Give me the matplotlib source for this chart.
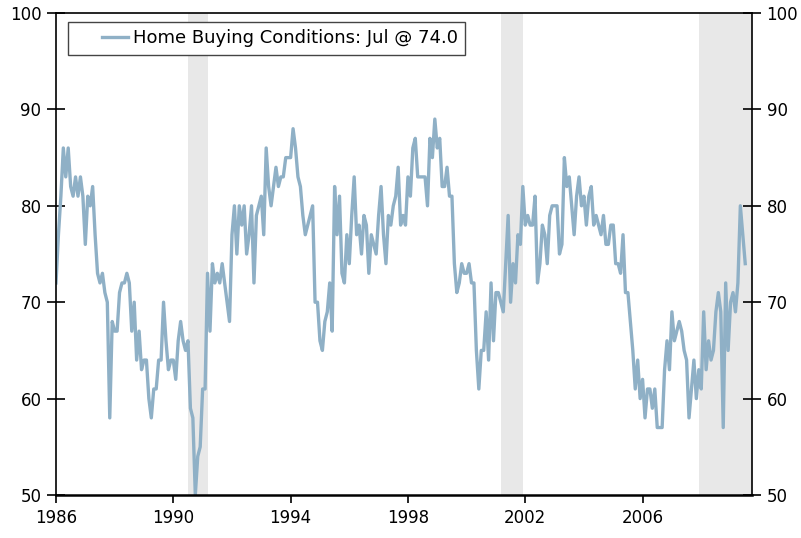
import matplotlib
matplotlib.use("Agg")
import matplotlib.pyplot as plt
from matplotlib.legend_handler import HandlerLine2D
import numpy as np

# monthly index, Jan 1986 .. Jul 2009
start_year = 1986
values = [
    72, 77, 81, 86, 83, 86, 82, 81, 83, 81, 83, 81,  # 1986
    76, 81, 80, 82, 77, 73, 72, 73, 71, 70, 58, 68,  # 1987
    67, 67, 71, 72, 72, 73, 72, 67, 70, 64, 67, 63,  # 1988
    64, 64, 60, 58, 61, 61, 64, 64, 70, 66, 63, 64,  # 1989
    64, 62, 66, 68, 66, 65, 66, 59, 58, 50, 54, 55,  # 1990
    61, 61, 73, 67, 74, 72, 73, 72, 74, 72, 70, 68,  # 1991
    77, 80, 75, 80, 78, 80, 75, 77, 80, 72, 79, 80,  # 1992
    81, 77, 86, 82, 80, 82, 84, 82, 83, 83, 85, 85,  # 1993
    85, 88, 86, 83, 82, 79, 77, 78, 79, 80, 70, 70,  # 1994
    66, 65, 68, 69, 72, 67, 82, 77, 81, 73, 72, 77,  # 1995
    74, 79, 83, 77, 78, 75, 79, 78, 73, 77, 76, 75,  # 1996
    79, 82, 77, 74, 79, 78, 80, 81, 84, 78, 79, 78,  # 1997
    83, 81, 86, 87, 83, 83, 83, 83, 80, 87, 85, 89,  # 1998
    86, 87, 82, 82, 84, 81, 81, 74, 71, 72, 74, 73,  # 1999
    73, 74, 72, 72, 65, 61, 65, 65, 69, 64, 72, 66,  # 2000
    71, 71, 70, 69, 74, 79, 70, 74, 72, 77, 76, 82,  # 2001
    78, 79, 78, 78, 81, 72, 74, 78, 77, 74, 79, 80,  # 2002
    80, 80, 75, 76, 85, 82, 83, 80, 77, 81, 83, 80,  # 2003
    81, 78, 81, 82, 78, 79, 78, 77, 79, 76, 76, 78,  # 2004
    78, 74, 74, 73, 77, 71, 71, 68, 65, 61, 64, 60,  # 2005
    62, 58, 61, 61, 59, 61, 57, 57, 57, 63, 66, 63,  # 2006
    69, 66, 67, 68, 67, 65, 64, 58, 61, 64, 60, 63,  # 2007
    61, 69, 63, 66, 64, 65, 69, 71, 69, 57, 72, 65,  # 2008
    70, 71, 69, 72, 80, 77, 74,                      # 2009
]
recessions = [(1990.5, 1991.17), (2001.17, 2001.92), (2007.92, 2009.73)]
x_ticks = [1986, 1990, 1994, 1998, 2002, 2006]
y_ticks = [50, 60, 70, 80, 90, 100]
label = "Home Buying Conditions: Jul @ 74.0"

dates = start_year + np.arange(len(values)) / 12.0


class ShortLine(HandlerLine2D):
    # draw the legend sample only in the right part of the handle box
    def get_xdata(self, legend, xdescent, ydescent, width, height, fontsize):
        xd = np.array([-xdescent + 0.5 * width, -xdescent + width])
        return xd, xd


fig = plt.figure(figsize=(8.01, 5.38), dpi=100)
ax = fig.add_axes([0.0699, 0.0799, 0.8689, 0.8959])

for a, b in recessions:
    ax.axvspan(a, b, color="#e8e8e8", lw=0, zorder=0)

line, = ax.plot(dates, values, color="#8fb0c6", lw=2.4, label=label, zorder=2)

ax.set_xlim(1986, 2009.73)
ax.set_ylim(50, 100)
ax.set_xticks(x_ticks)
ax.set_xticklabels([str(t) for t in x_ticks])
ax.set_yticks(y_ticks)

for s in ["left", "right", "top"]:
    ax.spines[s].set_linewidth(1.2)
ax.spines["bottom"].set_linewidth(1.8)

ax.tick_params(axis="y", direction="inout", length=13, width=1.2,
               left=True, right=True, labelleft=True, labelright=True,
               labelsize=12, pad=4)
ax.tick_params(axis="x", direction="out", length=6, width=1.2,
               labelsize=12, pad=4)

leg = ax.legend(loc="upper left", bbox_to_anchor=(0.017, 0.981), fontsize=13,
                frameon=True, fancybox=False, edgecolor="#444444",
                framealpha=1, handlelength=2.95, handletextpad=0.25,
                borderpad=0.4, borderaxespad=0,
                handler_map={line: ShortLine()})
leg.get_frame().set_linewidth(1.0)

fig.savefig("out.png", dpi=100)
